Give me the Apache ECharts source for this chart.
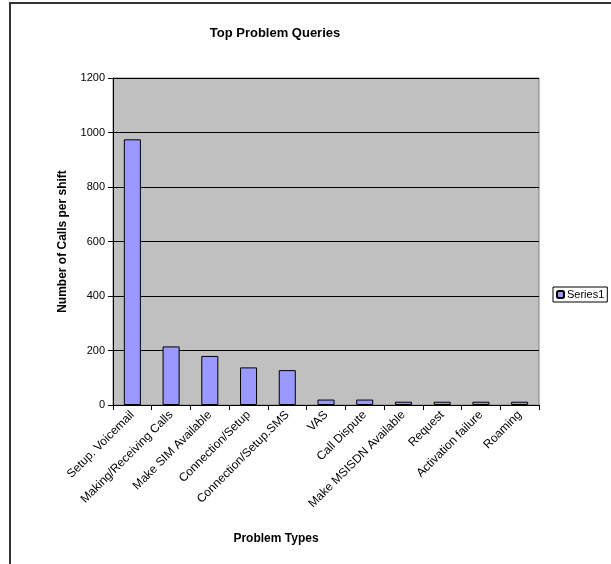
<!DOCTYPE html>
<html>
<head>
<meta charset="utf-8">
<script src="https://cdn.jsdelivr.net/npm/echarts@6/dist/echarts.min.js"></script>
<style>
  html, body { margin: 0; padding: 0; background: #fff; }
  #chart { width: 611px; height: 564px; }
</style>
</head>
<body>
<div id="chart"></div>
<script>
const categories = [
  'Setup. Voicemail', 'Making/Receiving Calls', 'Make SIM Available', 'Connection/Setup',
  'Connection/Setup.SMS', 'VAS', 'Call Dispute', 'Make MSISDN Available', 'Request',
  'Activation failure', 'Roaming'
];
const series1 = [975, 215, 180, 138, 128, 20, 20, 12, 12, 12, 12];
const yTicks = [0, 200, 400, 600, 800, 1000, 1200];

const chart = echarts.init(document.getElementById('chart'));
const font = 'Liberation Sans, Arial, sans-serif';

chart.setOption({
  animation: false,
  textStyle: { fontFamily: font },
  title: {
    text: 'Top Problem Queries',
    left: 270,
    top: 22,
    textAlign: 'center',
    textStyle: { fontSize: 13, fontWeight: 'bold', color: '#000', fontFamily: font }
  },
  graphic: [{
    type: 'rect',
    shape: { x: 10, y: 3, width: 700, height: 700 },
    style: { fill: 'none', stroke: '#333', lineWidth: 2 },
    silent: true
  }],
  legend: {
    left: 553,
    top: 287,
    orient: 'vertical',
    itemWidth: 7,
    itemHeight: 7,
    itemGap: 2,
    padding: [2, 3, 2, 3],
    borderColor: '#000',
    borderWidth: 1,
    textStyle: { fontSize: 11, color: '#000', fontFamily: font, padding: [0, 0, 0, -2] },
    data: ['Series1']
  },
  grid: {
    left: 113, top: 78, right: 72, bottom: 159,
    show: true, backgroundColor: '#C0C0C0', borderColor: '#808080', borderWidth: 1
  },
  xAxis: {
    type: 'category',
    data: categories,
    name: 'Problem Types',
    nameLocation: 'middle',
    nameGap: 128,
    nameTextStyle: { fontSize: 12, fontWeight: 'bold', color: '#000', padding: [0, 0, 0, -100] },
    axisLine: { lineStyle: { color: '#000', width: 1 } },
    axisTick: { show: true, length: 5, lineStyle: { color: '#000' } },
    axisLabel: { rotate: 45, interval: 0, fontSize: 12, color: '#000', margin: 8 }
  },
  yAxis: {
    type: 'value',
    min: 0,
    max: 1200,
    interval: 200,
    name: 'Number of Calls per shift',
    nameLocation: 'middle',
    nameGap: 44,
    nameTextStyle: { fontSize: 12, fontWeight: 'bold', color: '#000' },
    axisLine: { show: true, lineStyle: { color: '#000', width: 1 } },
    axisTick: { show: true, length: 5, lineStyle: { color: '#000' } },
    axisLabel: {
      fontSize: 11, color: '#000', margin: 8,
      formatter: v => yTicks.includes(v) ? String(v) : ''
    },
    splitLine: { lineStyle: { color: '#000', width: 1 } }
  },
  series: [{
    name: 'Series1',
    type: 'bar',
    data: series1,
    barCategoryGap: '56%',
    itemStyle: { color: '#9999FF', borderColor: '#000', borderWidth: 1 }
  }]
});
</script>
</body>
</html>
